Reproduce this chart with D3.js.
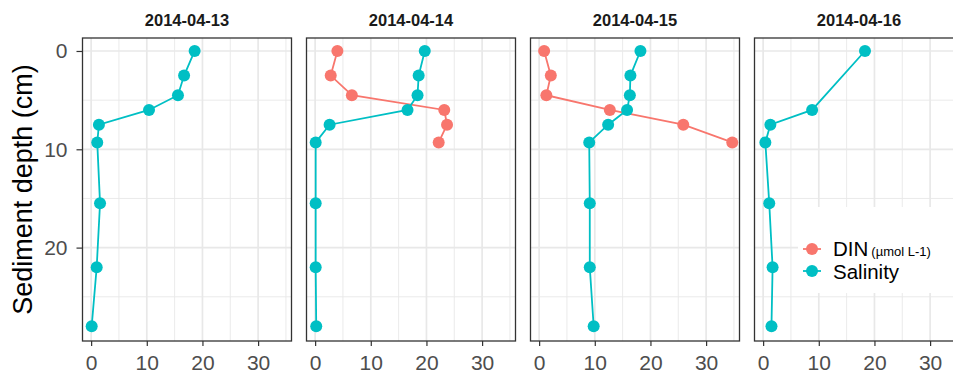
<!DOCTYPE html>
<html>
<head>
<meta charset="utf-8">
<script src="https://cdn.jsdelivr.net/npm/d3@7/dist/d3.min.js"></script>
<style>
  html, body { margin: 0; padding: 0; background: #fff; }
  svg { display: block; font-family: "Liberation Sans", Arial, sans-serif; }
</style>
</head>
<body>
<svg id="chart" width="953" height="375"></svg>
<script>
// ---- Data ----
const panels = ["2014-04-13", "2014-04-14", "2014-04-15", "2014-04-16"];
const depths = [0, 2.5, 4.5, 6, 7.5, 9.3, 15.5, 22, 28];
const depths16 = [0, 6, 7.5, 9.3, 15.5, 22, 28];
const dinDepths = [0, 2.5, 4.5, 6, 7.5, 9.3];

const salinity13 = [18.6, 16.7, 15.6, 10.4, 1.4, 1.1, 1.6, 1.0, 0.1];
const salinity14 = [19.7, 18.6, 18.4, 16.6, 2.6, 0.1, 0.1, 0.1, 0.2];
const salinity15 = [18.2, 16.4, 16.3, 15.8, 12.4, 9.0, 9.1, 9.1, 9.8];
const salinity16 = [18.3, 8.8, 1.3, 0.4, 1.1, 1.7, 1.5];

const din14 = [4.0, 2.8, 6.6, 23.2, 23.7, 22.2];
const din15 = [0.9, 2.1, 1.3, 12.7, 25.9, 34.7];

const xTicks = [0, 10, 20, 30];
const xMinor = [5, 15, 25, 35];
const yTicks = [0, 10, 20];
const yMinor = [5, 15, 25];

const seriesNames = ["DIN", "Salinity"];
const seriesColors = ["#F8766D", "#00BFC4"];

// Build per-panel series from the arrays
const zip = (d, v) => d.map((dd, i) => ({ depth: dd, value: v[i] }));
const panelData = [
  { title: panels[0], series: [ { name: "Salinity", pts: zip(depths, salinity13) } ] },
  { title: panels[1], series: [ { name: "DIN", pts: zip(dinDepths, din14) }, { name: "Salinity", pts: zip(depths, salinity14) } ] },
  { title: panels[2], series: [ { name: "DIN", pts: zip(dinDepths, din15) }, { name: "Salinity", pts: zip(depths, salinity15) } ] },
  { title: panels[3], series: [ { name: "Salinity", pts: zip(depths16, salinity16) } ] }
];

// ---- Layout ----
const svg = d3.select("#chart");
const panelLeft0 = 82.5, panelStep = 224, panelW = 209;
const panelTop = 38, panelH = 303;

const x = d3.scaleLinear().domain([-1.55, 36.0]).range([0, panelW]);
const y = d3.scaleLinear().domain([-1.32, 29.5]).range([0, panelH]);
const color = d3.scaleOrdinal().domain(seriesNames).range(seriesColors);

const grid = "#E8E8E8";
const border = "#333333";
const tickText = "#4D4D4D";

panelData.forEach((p, i) => {
  const left = panelLeft0 + i * panelStep;
  const g = svg.append("g").attr("transform", `translate(${left},${panelTop})`);

  // title
  svg.append("text")
    .attr("x", left + panelW / 2).attr("y", 26)
    .attr("text-anchor", "middle")
    .attr("font-size", 16.5).attr("font-weight", "bold")
    .attr("fill", "#1A1A1A")
    .text(p.title);

  // clip
  const cid = "clip" + i;
  svg.append("clipPath").attr("id", cid)
    .append("rect").attr("x", 0).attr("y", 0).attr("width", panelW).attr("height", panelH);
  const inner = g.append("g").attr("clip-path", `url(#${cid})`);

  // minor grid
  inner.selectAll(".xm").data(xMinor).join("line")
    .attr("x1", d => x(d)).attr("x2", d => x(d)).attr("y1", 0).attr("y2", panelH)
    .attr("stroke", grid).attr("stroke-width", 0.9);
  inner.selectAll(".ym").data(yMinor).join("line")
    .attr("y1", d => y(d)).attr("y2", d => y(d)).attr("x1", 0).attr("x2", panelW)
    .attr("stroke", grid).attr("stroke-width", 0.9);
  // major grid
  inner.selectAll(".xg").data(xTicks).join("line")
    .attr("x1", d => x(d)).attr("x2", d => x(d)).attr("y1", 0).attr("y2", panelH)
    .attr("stroke", grid).attr("stroke-width", 1.7);
  inner.selectAll(".yg").data(yTicks).join("line")
    .attr("y1", d => y(d)).attr("y2", d => y(d)).attr("x1", 0).attr("x2", panelW)
    .attr("stroke", grid).attr("stroke-width", 1.7);

  // lines
  const line = d3.line().x(d => x(d.value)).y(d => y(d.depth));
  p.series.forEach(s => {
    inner.append("path").datum(s.pts)
      .attr("d", line).attr("fill", "none")
      .attr("stroke", color(s.name)).attr("stroke-width", 1.8);
  });
  // points
  p.series.forEach(s => {
    inner.selectAll(null).data(s.pts).join("circle")
      .attr("cx", d => x(d.value)).attr("cy", d => y(d.depth)).attr("r", 6)
      .attr("fill", color(s.name));
  });

  // border
  g.append("rect").attr("x", 0).attr("y", 0).attr("width", panelW).attr("height", panelH)
    .attr("fill", "none").attr("stroke", border).attr("stroke-width", 1.3);

  // x axis
  const xa = g.append("g").attr("transform", `translate(0,${panelH})`)
    .call(d3.axisBottom(x).tickValues(xTicks).tickSize(5).tickPadding(9).tickFormat(d3.format("d")));
  xa.select(".domain").remove();
  xa.selectAll(".tick line").attr("stroke", border).attr("stroke-width", 1.2);
  xa.selectAll(".tick text").attr("fill", tickText).attr("font-size", 21)
    .attr("font-family", "Liberation Sans, Arial, sans-serif");

  if (i === 0) {
    const ya = g.append("g")
      .call(d3.axisLeft(y).tickValues(yTicks).tickSize(6).tickPadding(9).tickFormat(d3.format("d")));
    ya.select(".domain").remove();
    ya.selectAll(".tick line").attr("stroke", border).attr("stroke-width", 1.2);
    ya.selectAll(".tick text").attr("fill", tickText).attr("font-size", 21)
      .attr("font-family", "Liberation Sans, Arial, sans-serif");
  }
});

// y axis title
svg.append("text")
  .attr("transform", `translate(32,${panelTop + panelH / 2}) rotate(-90)`)
  .attr("text-anchor", "middle")
  .attr("font-size", 27).attr("fill", "#000")
  .text("Sediment depth (cm)");

// legend
const lg = svg.append("g");
lg.append("rect").attr("x", 798).attr("y", 207).attr("width", 160).attr("height", 86).attr("fill", "#fff");
const legendY = [249, 271];
seriesNames.forEach((n, k) => {
  lg.append("line").attr("x1", 803).attr("x2", 821).attr("y1", legendY[k]).attr("y2", legendY[k])
    .attr("stroke", color(n)).attr("stroke-width", 1.8);
  lg.append("circle").attr("cx", 812).attr("cy", legendY[k]).attr("r", 6).attr("fill", color(n));
});
const t1 = lg.append("text").attr("x", 833).attr("y", 255.5).attr("fill", "#000");
t1.append("tspan").attr("font-size", 20.5).text("DIN");
t1.append("tspan").attr("font-size", 13).attr("dx", 3).text("(µmol L-1)");
lg.append("text").attr("x", 833).attr("y", 279).attr("font-size", 20.5).attr("fill", "#000").text("Salinity");
</script>
</body>
</html>
